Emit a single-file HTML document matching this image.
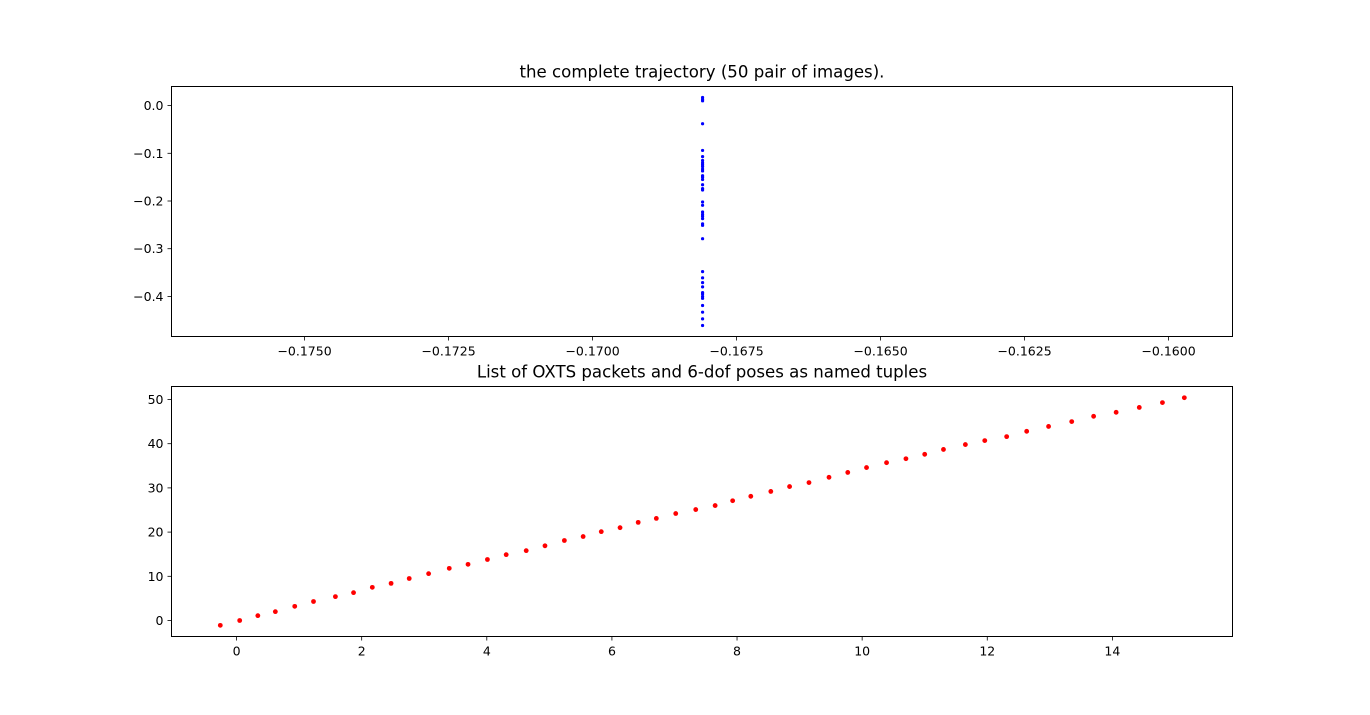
<!DOCTYPE html>
<html><head><meta charset="utf-8"><style>
body{margin:0;background:#fff;}
svg{display:block;font-family:"DejaVu Sans","Liberation Sans",sans-serif;}
</style></head><body>
<svg id="chart" width="1370" height="715" xmlns="http://www.w3.org/2000/svg"></svg>
<script>
const topX = -0.16809;
const topY = [0.017,0.013,0.010,-0.038,-0.094,-0.107,-0.115,-0.120,-0.124,-0.128,-0.133,-0.137,-0.147,-0.150,-0.155,-0.166,-0.174,-0.177,-0.202,-0.209,-0.223,-0.228,-0.232,-0.237,-0.248,-0.251,-0.279,-0.348,-0.361,-0.371,-0.380,-0.392,-0.395,-0.400,-0.404,-0.419,-0.433,-0.447,-0.461];
const topXTicks = [-0.1750,-0.1725,-0.1700,-0.1675,-0.1650,-0.1625,-0.1600];
const topYTicks = [0.0,-0.1,-0.2,-0.3,-0.4];
const botX = [-0.26,0.05,0.34,0.62,0.93,1.23,1.58,1.87,2.17,2.47,2.76,3.07,3.40,3.70,4.01,4.31,4.63,4.93,5.24,5.54,5.83,6.13,6.42,6.71,7.02,7.34,7.65,7.93,8.22,8.54,8.84,9.15,9.47,9.77,10.07,10.39,10.70,11.00,11.30,11.65,11.96,12.31,12.63,12.98,13.35,13.70,14.06,14.43,14.80,15.15];
const botY = [-1.1,0,1.1,2.0,3.2,4.3,5.4,6.3,7.5,8.4,9.5,10.6,11.8,12.7,13.8,14.9,15.8,16.9,18.1,19.0,20.1,21.0,22.2,23.1,24.2,25.1,26.0,27.1,28.1,29.2,30.3,31.2,32.4,33.5,34.6,35.7,36.6,37.6,38.7,39.8,40.7,41.6,42.8,43.9,45.0,46.2,47.1,48.2,49.3,50.4];
const botXTicks = [0,2,4,6,8,10,12,14];
const botYTicks = [0,10,20,30,40,50];

const NS="http://www.w3.org/2000/svg";
const svg=document.getElementById('chart');
function mk(tag,attrs,parent){const e=document.createElementNS(NS,tag);for(const k in attrs)e.setAttribute(k,attrs[k]);(parent||svg).appendChild(e);return e;}

function panel(name,L,T,R,B,xmin,xmax,ymin,ymax,xt,yt,xfmt,yfmt,title,xs,ys,color,r){
  const g=mk('g',{});
  
  
  const sx=v=>L+(v-xmin)/(xmax-xmin)*(R-L);
  const sy=v=>B-(v-ymin)/(ymax-ymin)*(B-T);
  const t=mk('text',{x:(L+R)/2,y:T-9,'text-anchor':'middle','font-size':'16.6'},g);
  t.textContent=title;
  
  
  xt.forEach(v=>{const x=sx(v);mk('line',{x1:x,x2:x,y1:B,y2:B+4,stroke:'#000','stroke-width':0.8},g);
    const l=mk('text',{x:x,y:B+19,'text-anchor':'middle','font-size':'12.5'},g);l.textContent=xfmt(v);
    
    });
  yt.forEach(v=>{const y=sy(v);mk('line',{x1:L-4,x2:L,y1:y,y2:y,stroke:'#000','stroke-width':0.8},g);
    const l=mk('text',{x:L-8,y:y+4.5,'text-anchor':'end','font-size':'12.5'},g);l.textContent=yfmt(v);
    
    });
  xs.forEach((xv,i)=>{const c=mk('circle',{cx:sx(xv),cy:sy(ys[i]),r:r,fill:color},g);
    
    });
  const f=mk('rect',{x:L,y:T,width:R-L,height:B-T,fill:'none',stroke:'#000','stroke-width':1},g);
  
  
}
panel('trajectory-plot',171.5,86.5,1232.5,336.5,-0.17731,-0.15889,-0.484,0.040,topXTicks,topYTicks,
  v=>(v<0?'\u2212':'')+Math.abs(v).toFixed(4),v=>(v<0?'\u2212':'')+Math.abs(v).toFixed(1),
  'the complete trajectory (50 pair of images).',topY.map(()=>topX),topY,'#0000ff',1.6);
panel('oxts-plot',171.5,386.5,1232.5,636.5,-1.04,15.92,-3.62,52.94,botXTicks,botYTicks,
  v=>String(v),v=>String(v),'List of OXTS packets and 6-dof poses as named tuples',botX,botY,'#ff0000',2.4);
</script>
</body></html>
